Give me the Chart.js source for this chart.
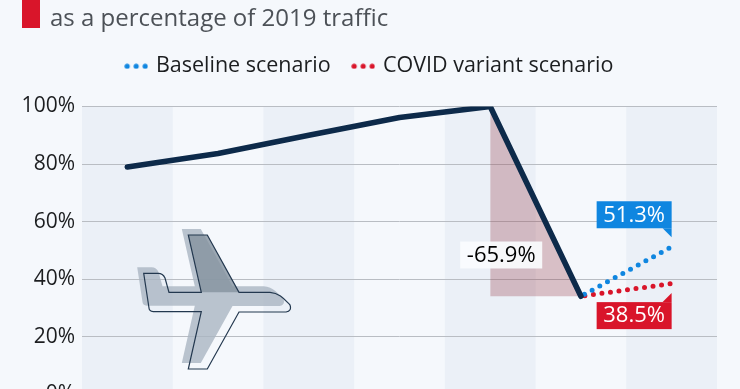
<!DOCTYPE html>
<html><head><meta charset="utf-8">
<script src="https://cdn.jsdelivr.net/npm/chart.js@4"></script>
<style>
html,body{margin:0;padding:0;width:740px;height:389px;overflow:hidden;background:#f5f8fc}
#wrap{position:relative;width:740px;height:389px;overflow:hidden}
canvas{position:absolute;left:0;top:0}
#bar{position:absolute;left:22px;top:0;width:18px;height:28px;background:#d9152a}
#sub{position:absolute;left:50px;top:-1px;font:24px/36px "Open Sans",sans-serif;color:#4c5157;white-space:nowrap}
#plane{position:absolute;left:0;top:0;pointer-events:none}
</style></head>
<body><div id="wrap">
<canvas id="c" width="740" height="450"></canvas>
<div id="bar"></div><div id="sub">as a percentage of 2019 traffic</div>
<svg id="plane" width="740" height="389" viewBox="0 0 740 389">
<path transform="translate(-6.5,-6)" d="M143.7 273.3H158Q163 273.3 165 278L169 292.3H201.3L188.3 235H205Q207 235 207.3 235L239 292.3H270C280 293 285 300 290 305Q292 311 286 312H239L207.3 369H188.3L201.3 311.7H153.3Q149 311 149 308Z" fill="#aab5c2" fill-opacity=".8"/>
<path d="M201.3 292.3L188.3 235H205Q207 235 207.3 235L239 292.3Z" fill="#84929f" fill-opacity=".8"/>
<path d="M143.7 273.3H158Q163 273.3 165 278L169 292.3H201.3L188.3 235H205Q207 235 207.3 235L239 292.3H270C280 293 285 300 290 305Q292 311 286 312H239L207.3 369H188.3L201.3 311.7H153.3Q149 311 149 308Z" fill="none" stroke="#23384f" stroke-width="1.2"/>
</svg>
</div>
<script>
const categories=["2015","2016","2017","2018","2019","2020","2021"];
const yTicks=[0,20,40,60,80,100];
const actual=[79,83.7,90,96.2,100,34.1,null];
const baseline=[null,null,null,null,null,34.1,51.3];
const variant=[null,null,null,null,null,34.1,38.5];
const drop=[null,null,null,null,100,34.1,null];
const dropLabel="-65.9%";
const legendNames=["Baseline scenario","COVID variant scenario"];
const NAVY="#0d2a4a",BLUE="#0f86e0",RED="#d9152a",INK="#1c1e20";

function dots(color){
  const k=document.createElement('canvas');k.width=24;k.height=6;
  const g=k.getContext('2d');g.fillStyle=color;
  [3,12,21].forEach(x=>{g.beginPath();g.arc(x,3,2.6,0,Math.PI*2);g.fill();});
  return k;
}
const legendGap={id:'legendGap',beforeInit(ch){
  const f=ch.legend.fit;
  ch.legend.fit=function(){f.call(this);this.height+=19.5;this.lineWidths[0]-=23.5;};
}};
const backdrop={id:'backdrop',beforeDraw(ch){
  const {ctx,chartArea:a,scales:{x}}=ch;
  const w=(a.right-a.left)/categories.length;
  ctx.save();ctx.fillStyle="#ebf0f7";
  categories.forEach((c,i)=>{if(i%2===0)ctx.fillRect(x.getPixelForValue(i)-w/2,a.top,w,a.bottom-a.top);});
  ctx.restore();
}};
function box(ctx,l,t,r,b,fill){ctx.fillStyle=fill;ctx.fillRect(l,t,r-l,b-t);}
const callouts={id:'callouts',afterDatasetsDraw(ch){
  const {ctx,scales:{x,y}}=ch;
  const px=x.getPixelForValue(6);
  ctx.save();
  ctx.font='500 22px "Open Sans",sans-serif';ctx.textAlign='center';ctx.textBaseline='middle';
  let py=y.getPixelForValue(baseline[6]);
  box(ctx,px-75,py-45.5,px,py-18.5,BLUE);
  ctx.beginPath();ctx.moveTo(px-9,py-18.5);ctx.lineTo(px,py-18.5);ctx.lineTo(px,py-9.5);ctx.closePath();ctx.fill();
  ctx.fillStyle="#fff";ctx.fillText(baseline[6].toFixed(1)+"%",px-37.5,py-31.5);
  py=y.getPixelForValue(variant[6]);
  box(ctx,px-75,py+18.5,px,py+45.5,RED);
  ctx.beginPath();ctx.moveTo(px-9,py+18.5);ctx.lineTo(px,py+18.5);ctx.lineTo(px,py+9.5);ctx.closePath();ctx.fill();
  ctx.fillStyle="#fff";ctx.fillText(variant[6].toFixed(1)+"%",px-37.5,py+32.5);
  const dx=x.getPixelForValue(4), dy=y.getPixelForValue(50);
  box(ctx,dx-30,dy-9,dx+52,dy+18,"rgba(250,252,254,.92)");
  ctx.fillStyle="#000";ctx.fillText(dropLabel,dx+11,dy+5);
  ctx.restore();
}};
new Chart(document.getElementById('c'),{
  type:'line',
  data:{labels:categories,datasets:[
    {label:"actual",data:actual,borderColor:NAVY,borderWidth:5.6,pointRadius:0,tension:0,order:1,borderJoinStyle:'round',borderCapStyle:'round',fill:false},
    {label:legendNames[0],data:baseline,borderColor:BLUE,borderWidth:5,borderDash:[0,8.75],borderDashOffset:-4,borderCapStyle:'round',pointRadius:0,order:2,fill:false},
    {label:legendNames[1],data:variant,borderColor:RED,borderWidth:5,borderDash:[0,8.6],borderDashOffset:-4,borderCapStyle:'round',pointRadius:0,order:3,fill:false},
    {label:"drop",data:drop,borderWidth:0,borderColor:'transparent',pointRadius:0,backgroundColor:"rgba(150,60,72,.3)",fill:{value:34.1},order:4}
  ]},
  options:{
    responsive:false,animation:false,devicePixelRatio:1,
    layout:{padding:{top:32,right:23,left:0,bottom:0}},
    plugins:{
      tooltip:{enabled:false},
      title:{display:false},
      legend:{display:true,position:'top',align:'center',
        labels:{usePointStyle:true,pointStyleWidth:18,color:INK,padding:23.5,font:{family:'"Open Sans"',size:21.5},
          generateLabels:()=>[
            {text:legendNames[0],pointStyle:dots(BLUE),datasetIndex:1,fontColor:INK,lineWidth:0,strokeStyle:'transparent'},
            {text:legendNames[1],pointStyle:dots(RED),datasetIndex:2,fontColor:INK,lineWidth:0,strokeStyle:'transparent'}
          ]}}
    },
    scales:{
      x:{offset:true,grid:{display:false},border:{display:false},
         ticks:{color:INK,font:{family:'"Open Sans"',size:20}},
         afterFit(s){s.height=450-394.5;}},
      y:{min:0,max:100,grid:{color:"#b9bdc3",lineWidth:1,drawTicks:false},border:{display:false},
         afterBuildTicks(s){s.ticks=yTicks.map(v=>({value:v}));},
         ticks:{color:INK,padding:7,font:{family:'"Open Sans"',size:21},callback:v=>v+"%"},
         afterFit(s){s.width=82;}}
    }
  },
  plugins:[legendGap,backdrop,callouts]
});
</script></body></html>
